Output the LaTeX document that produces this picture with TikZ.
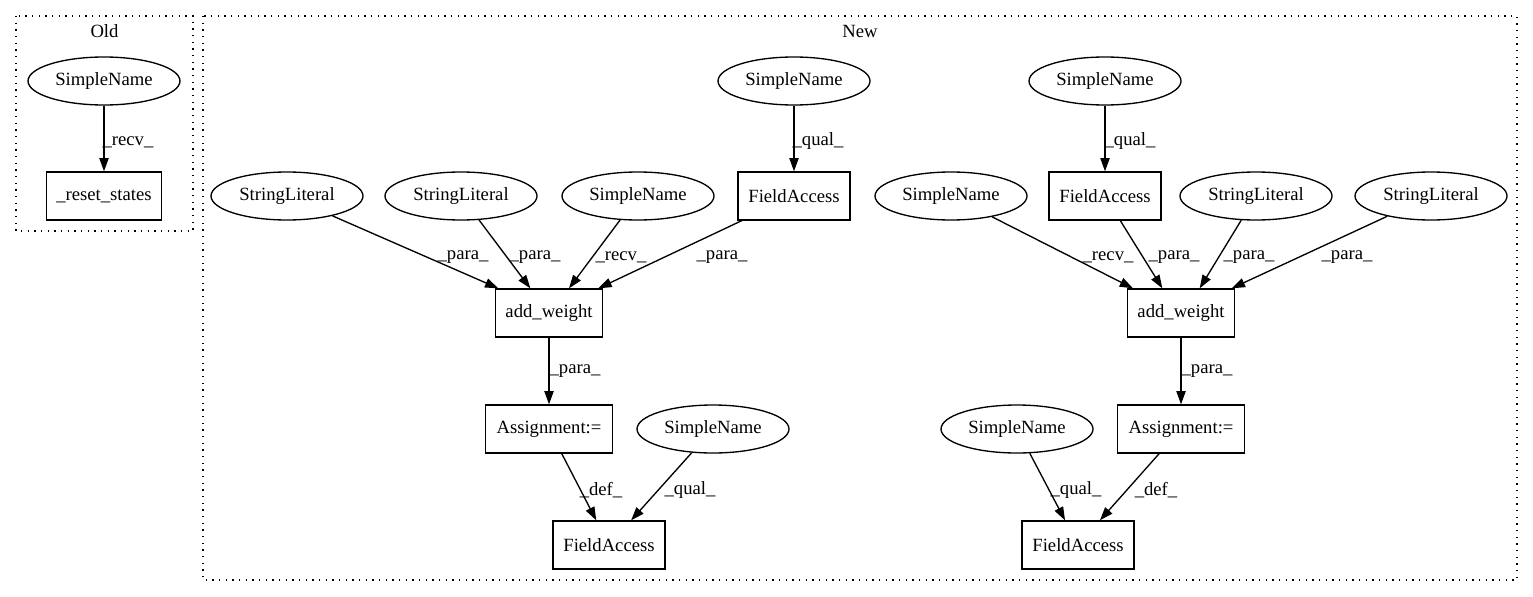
\documentclass[tikz,border=0pt]{standalone}
\usepackage{fontspec}
\setmainfont{Liberation Serif}
\usetikzlibrary{arrows.meta,shapes.geometric}
\begin{document}
\begin{tikzpicture}[x=0.75pt,y=-0.75pt,
  every node/.style={font=\fontsize{14}{16}\selectfont, inner sep=0pt},
  ell/.style={draw, ellipse, minimum width=114pt, minimum height=36pt, line width=1pt},
  box/.style={draw, rectangle, minimum height=36pt, line width=1pt},
  edge/.style={line width=1pt, -{Triangle[length=10pt,width=7pt]}},
  cluster/.style={draw, line width=1pt, dash pattern=on 1pt off 4pt}]
\fill[white] (0,0) rectangle (1533,596);
\useasboundingbox (0,0) rectangle (1533,596);
% clusters
\draw[cluster] (16,16) rectangle (193,231);
\draw[cluster] (203,16) rectangle (1517,580);
\node (oldlbl) at (104.5,31) {Old};
\node (newlbl) at (860,31) {New};
% Old
\node[ell] (osn) at (104,81) {SimpleName};
\node[box, minimum width=86pt] (ors) at (104,196) {\_reset\_states};
\draw[edge] (osn) -- (ors);
\node (olab) at (128,142) {\_recv\_};
% New, left group
\node[ell] (lsntop) at (794,81) {SimpleName};
\node[box, minimum width=84pt] (lfa1) at (794,196) {FieldAccess};
\node[ell] (lsl1) at (287,196) {StringLiteral};
\node[ell] (lsl2) at (461,196) {StringLiteral};
\node[ell] (lsn) at (638,196) {SimpleName};
\node[box, minimum width=80pt] (law) at (549,313) {add\_weight};
\node[box, minimum width=95pt] (las) at (549,429) {Assignment:=};
\node[ell] (lsn2) at (713,429) {SimpleName};
\node[box, minimum width=84pt] (lfa2) at (609,545) {FieldAccess};
\draw[edge] (lsntop) -- (lfa1);
\draw[edge] (lsl1) -- ([xshift=-38pt]law.north);
\draw[edge] (lsl2) -- ([xshift=-14pt]law.north);
\draw[edge] (lsn) -- ([xshift=15pt]law.north);
\draw[edge] (lfa1) -- ([xshift=37pt]law.north);
\draw[edge] (law) -- (las);
\draw[edge] (las) -- (lfa2);
\draw[edge] (lsn2) -- (lfa2);
\node (ll1) at (818,141) {\_qual\_};
\node (ll2) at (463,257) {\_para\_};
\node (ll3) at (535,257) {\_para\_};
\node (ll4) at (621,257) {\_recv\_};
\node (ll5) at (722,257) {\_para\_};
\node (ll6) at (575,371) {\_para\_};
\node (ll7) at (601,490) {\_def\_};
\node (ll8) at (690,490) {\_qual\_};
% New, right group
\node[ell] (rsntop) at (1105,81) {SimpleName};
\node[box, minimum width=84pt] (rfa1) at (1105,196) {FieldAccess};
\node[ell] (rsn) at (951,196) {SimpleName};
\node[ell] (rsl1) at (1256,196) {StringLiteral};
\node[ell] (rsl2) at (1431,196) {StringLiteral};
\node[box, minimum width=80pt] (raw) at (1181,313) {add\_weight};
\node[box, minimum width=95pt] (ras) at (1181,429) {Assignment:=};
\node[ell] (rsn2) at (1017,429) {SimpleName};
\node[box, minimum width=84pt] (rfa2) at (1078,545) {FieldAccess};
\draw[edge] (rsntop) -- (rfa1);
\draw[edge] (rsn) -- ([xshift=-36pt]raw.north);
\draw[edge] (rfa1) -- ([xshift=-14pt]raw.north);
\draw[edge] (rsl1) -- ([xshift=14pt]raw.north);
\draw[edge] (rsl2) -- ([xshift=38pt]raw.north);
\draw[edge] (raw) -- (ras);
\draw[edge] (rsn2) -- (rfa2);
\draw[edge] (ras) -- (rfa2);
\node (rl1) at (1130,141) {\_qual\_};
\node (rl2) at (1108,257) {\_recv\_};
\node (rl3) at (1174,257) {\_para\_};
\node (rl4) at (1249,257) {\_para\_};
\node (rl5) at (1347,257) {\_para\_};
\node (rl6) at (1207,371) {\_para\_};
\node (rl7) at (1076,490) {\_qual\_};
\node (rl8) at (1156,490) {\_def\_};
\end{tikzpicture}
\end{document}
